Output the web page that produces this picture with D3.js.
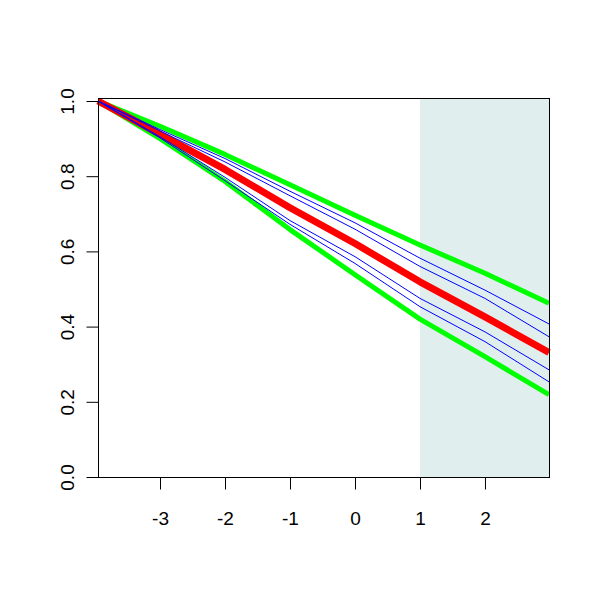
<!DOCTYPE html>
<html>
<head>
<meta charset="utf-8">
<script src="https://cdn.jsdelivr.net/npm/d3@7"></script>
<style>
  html, body { margin: 0; padding: 0; background: #ffffff; }
  svg { display: block; }
</style>
</head>
<body>
<div id="chart"></div>
<script>
// ---- data ----
const xTicks = [-3, -2, -1, 0, 1, 2];
const yTicks = [0, 0.2, 0.4, 0.6, 0.8, 1.0];
const xDomain = [-3.954, 2.985];
const shadeStart = 1;
const xs = [-3.954, -3, -2, -1, 0, 1, 2, 2.985];
const upperGreen = [1.0, 0.933, 0.858, 0.777, 0.696, 0.617, 0.542, 0.462];
const blue1      = [1.0, 0.924, 0.847, 0.760, 0.676, 0.582, 0.497, 0.407];
const blue2      = [1.0, 0.920, 0.838, 0.748, 0.659, 0.560, 0.475, 0.373];
const redLine    = [1.0, 0.912, 0.818, 0.716, 0.621, 0.519, 0.426, 0.331];
const blue3      = [1.0, 0.905, 0.797, 0.682, 0.586, 0.475, 0.386, 0.285];
const blue4      = [1.0, 0.902, 0.788, 0.672, 0.568, 0.453, 0.360, 0.253];
const lowerGreen = [1.0, 0.900, 0.786, 0.658, 0.538, 0.420, 0.320, 0.219];

// ---- layout ----
const W = 600, H = 600;
const mLeft = 98, mRight = 549, mTop = 98, mBottom = 477;

const svg = d3.select("#chart").append("svg")
  .attr("width", W).attr("height", H);
svg.append("rect").attr("width", W).attr("height", H).attr("fill", "#ffffff");

const x = d3.scaleLinear().domain(xDomain).range([mLeft, mRight]);
const y = d3.scaleLinear().domain([0, 1]).range([477, 101]);

// shaded region
svg.append("rect")
  .attr("x", x(shadeStart))
  .attr("y", mTop)
  .attr("width", mRight - x(shadeStart))
  .attr("height", mBottom - mTop)
  .attr("fill", "#E0EEEE");

const line = d3.line()
  .x((d, i) => x(xs[i]))
  .y(d => y(d));

const g = svg.append("g");
const series = [
  { v: upperGreen, c: "#00FF00", w: 5 },
  { v: lowerGreen, c: "#00FF00", w: 5 },
  { v: redLine, c: "#FF0000", w: 7 },
  { v: blue1, c: "#0000FF", w: 1 },
  { v: blue2, c: "#0000FF", w: 1 },
  { v: blue3, c: "#0000FF", w: 1 },
  { v: blue4, c: "#0000FF", w: 1 }
];
series.forEach(s => {
  g.append("path")
    .attr("d", line(s.v))
    .attr("fill", "none")
    .attr("stroke", s.c)
    .attr("stroke-width", s.w)
    .attr("stroke-linejoin", "round")
    .attr("stroke-linecap", "butt");
});

// box
svg.append("rect")
  .attr("x", mLeft + 0.5).attr("y", mTop + 0.5)
  .attr("width", mRight - mLeft).attr("height", mBottom - mTop)
  .attr("fill", "none").attr("stroke", "#000").attr("stroke-width", 1);

const font = "'Liberation Sans', Arial, Helvetica, sans-serif";

// x axis
const xAxis = svg.append("g")
  .attr("transform", `translate(0,${mBottom + 0.5})`)
  .call(d3.axisBottom(x).tickValues(xTicks).tickFormat(d => String(d)).tickSize(12).tickSizeOuter(0));
xAxis.select(".domain").remove();
xAxis.selectAll("line").attr("stroke", "#000");
xAxis.selectAll("text")
  .attr("y", 47).attr("dy", 0)
  .attr("fill", "#000")
  .style("font-family", font).style("font-size", "19px");

// y axis
const yAxis = svg.append("g")
  .attr("transform", `translate(${mLeft + 0.5},0)`)
  .call(d3.axisLeft(y).tickValues(yTicks).tickFormat(d3.format(".1f")).tickSize(12).tickSizeOuter(0));
yAxis.select(".domain").remove();
yAxis.selectAll("line").attr("stroke", "#000");
yAxis.selectAll("text")
  .attr("x", 0).attr("y", 0).attr("dy", 0)
  .attr("text-anchor", "middle")
  .attr("transform", "translate(-25,0) rotate(-90)")
  .attr("fill", "#000")
  .style("font-family", font).style("font-size", "19px");
</script>
</body>
</html>
